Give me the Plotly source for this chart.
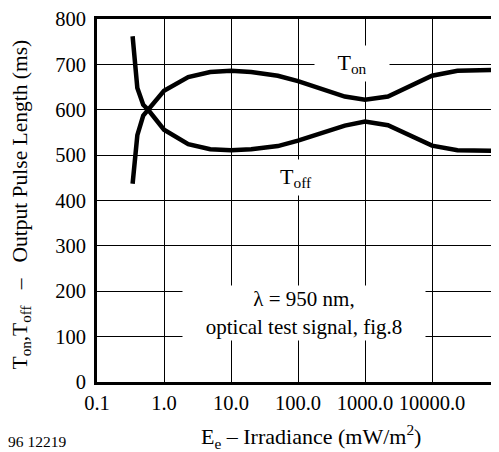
import plotly.graph_objects as go

irradiance = [0.34, 0.4, 0.49, 0.58, 1.0, 2.3, 4.9, 10, 20, 50, 100, 500, 1000, 2200, 10000, 24000, 100000]
t_on = [437, 544, 587, 600, 642, 672, 683, 686, 683, 675, 663, 629, 622, 629, 675, 686, 688]
t_off = [762, 648, 611, 600, 556, 524, 513, 511, 513, 520, 532, 565, 574, 566, 521, 511, 509]
x_ticks = [0.1, 1, 10, 100, 1000, 10000]
x_tick_labels = ["0.1", "1.0", "10.0", "100.0", "1000.0", "10000.0"]
y_ticks = [0, 100, 200, 300, 400, 500, 600, 700, 800]

FONT = "Liberation Serif, Times New Roman, serif"
# page body has an 8px margin; compensate
OFF = 8
L, T, B = 97 - OFF, 16 - OFF, 70
W, H = 499 - OFF, 452 - OFF
PW = W - L  # plot width
PH = H - T - B  # plot height

def px(xp):
    return (xp - 97) / PW

def py(yp):
    return (382 - yp) / PH

fig = go.Figure()
fig.add_trace(go.Scatter(x=irradiance, y=t_on, mode="lines", line=dict(color="black", width=4.5), name="Ton"))
fig.add_trace(go.Scatter(x=irradiance, y=t_off, mode="lines", line=dict(color="black", width=4.5), name="Toff"))

fig.update_layout(
    width=W, height=H,
    margin=dict(l=L, r=0, t=T, b=B),
    paper_bgcolor="white", plot_bgcolor="white",
    showlegend=False,
    font=dict(family=FONT, size=21, color="black"),
)
fig.update_xaxes(type="log", range=[-1, 5], tickvals=x_ticks, ticktext=x_tick_labels,
                 showgrid=True, gridcolor="black", gridwidth=1.3,
                 showline=True, linecolor="black", linewidth=2.8, mirror=True,
                 ticks="", zeroline=False, ticklabeloverflow="allow",
                 tickfont=dict(size=20.5, family=FONT))
fig.update_yaxes(range=[0, 800], tickvals=y_ticks,
                 showgrid=True, gridcolor="black", gridwidth=1.3,
                 showline=True, linecolor="black", linewidth=2.8, mirror=False,
                 ticks="outside", ticklen=4, tickcolor="rgba(0,0,0,0)",
                 zeroline=False, ticklabeloverflow="allow",
                 tickfont=dict(size=20.5, family=FONT))

nb = "\u00a0"
def ann(**kw):
    fig.add_annotation(xref="paper", yref="paper", showarrow=False,
                       xanchor="center", yanchor="middle", **kw)

ann(x=px(310.5), y=py(437), text="E<sub>e</sub> – Irradiance (mW/m<sup>2</sup>)", font=dict(size=22, family=FONT))
ann(x=px(21), y=py(203), textangle=-90,
    text=f"T<sub>on</sub>,T<sub>off</sub>{nb*3}–{nb*3}Output Pulse Length (ms)", font=dict(size=21.5, family=FONT))
ann(x=px(37), y=py(442), text="96 12219", font=dict(size=15.5, family=FONT))
ann(x=px(304), y=py(312), text="λ = 950 nm,<br>optical test signal, fig.8", font=dict(size=21, family=FONT),
    bgcolor="white", width=240, height=52)
ann(x=px(352), y=py(61), text="T<sub>on</sub>", font=dict(size=22, family=FONT), bgcolor="white", width=72, height=33)
ann(x=px(296), y=py(176), text="T<sub>off</sub>", font=dict(size=22, family=FONT), bgcolor="white", width=50, height=33)

fig.write_html("out.html")
